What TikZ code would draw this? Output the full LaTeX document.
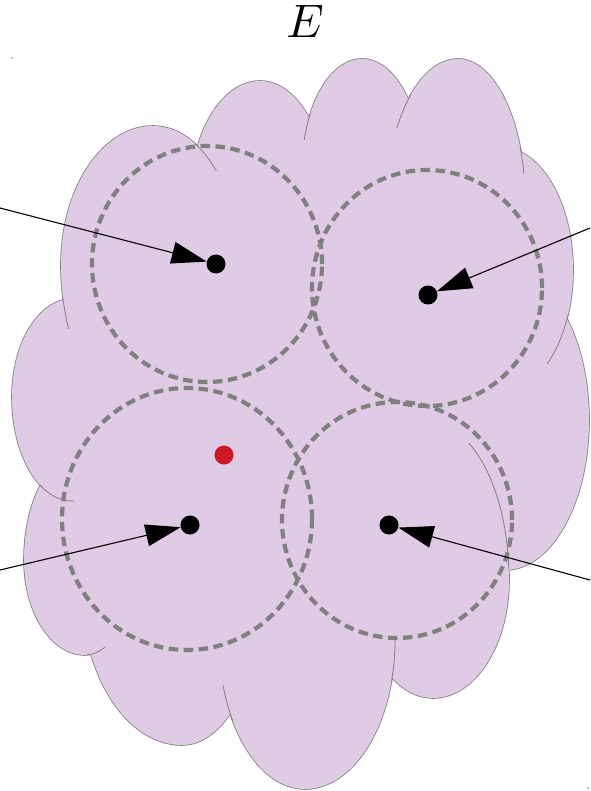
\documentclass[tikz,border=0pt]{standalone}
\usepackage{graphicx}
\usetikzlibrary{arrows.meta}
\definecolor{cloudfill}{RGB}{223,203,227}
\definecolor{cloudedge}{RGB}{128,128,128}
\definecolor{dashgray}{RGB}{128,128,128}
\definecolor{reddot}{RGB}{205,25,35}
\tikzset{
  lobe/.style n args={6}{insert path={({#1+#4},#2)
     arc[start angle=0,end angle=90,x radius=#4pt,y radius=#5pt]
     arc[start angle=90,end angle=180,x radius=#3pt,y radius=#5pt]
     arc[start angle=180,end angle=270,x radius=#3pt,y radius=#6pt]
     arc[start angle=270,end angle=360,x radius=#4pt,y radius=#6pt] -- cycle}},
  cloudline/.style={draw=cloudedge, line width=0.8pt},
  cloudrim/.style={draw=cloudedge, line width=1.6pt},
  rangecirc/.style={draw=dashgray, line width=4.2pt, dash pattern=on 9.5pt off 5.5pt},
  sensor/.style={circle, fill=black, inner sep=0pt, minimum size=19pt},
  target/.style={circle, fill=reddot, inner sep=0pt, minimum size=19pt},
  arr/.style={draw=black, line width=1.1pt, -{Triangle[length=35pt,width=22pt]}},
  speck/.style={circle, fill=cloudedge, inner sep=0pt, minimum size=1.6pt}
}
\def\lobelist{153/265/92/86/139/160, 260/200/70/68/119/100, 362/170/60/60/111/100,
  458/200/71/67/141/100, 500/270/60/73/123/123, 505/420/80/84/150/150,
  433/580/73/76/155/118, 305/640/86/90/120/149, 182/590/100/80/100/155,
  85/560/61/50/110/95, 72/397/60/60/98/104}
\begin{document}
\begin{tikzpicture}[x=1pt,y=-1pt]
\useasboundingbox (0,0) rectangle (590,791);
% title
\node[inner sep=0pt] (title) at (305,21) {\scalebox{4.7}{$E$}};
% tiny specks
\node[speck] (sp1) at (12,58) {};
\node[speck] (sp2) at (588,788) {};
% cloud: rims first, then fills on top so only the outer rim stays
\foreach \a/\b/\c/\d/\e/\f in \lobelist {
  \path[cloudrim, lobe={\a}{\b}{\c}{\d}{\e}{\f}];
}
\foreach \a/\b/\c/\d/\e/\f in \lobelist {
  \path[fill=cloudfill, lobe={\a}{\b}{\c}{\d}{\e}{\f}];
}
\fill[cloudfill] (100,200) -- (200,160) -- (300,140) -- (400,130) -- (500,180)
  -- (550,300) -- (560,450) -- (500,560) -- (420,650) -- (300,700) -- (200,700)
  -- (100,630) -- (50,500) -- (40,400) -- (80,320) -- cycle;
% interior continuations of the lobe outlines
\begin{scope}\clip (195,140) rectangle (217,171);
  \path[cloudline, lobe={153}{265}{92}{86}{139}{160}];\end{scope}
\begin{scope}\clip (57,298) rectangle (72,328);
  \path[cloudline, lobe={153}{265}{92}{86}{139}{160}];\end{scope}
\begin{scope}\clip (300,115) rectangle (312,140);
  \path[cloudline, lobe={362}{170}{60}{60}{111}{100}];\end{scope}
\begin{scope}\clip (393,95) rectangle (411,128);
  \path[cloudline, lobe={458}{200}{71}{67}{141}{100}];\end{scope}
\begin{scope}\clip (515,148) rectangle (528,174);
  \path[cloudline, lobe={458}{200}{71}{67}{141}{100}];\end{scope}
\begin{scope}\clip (544,315) rectangle (572,363);
  \path[cloudline, lobe={500}{270}{60}{73}{123}{123}];\end{scope}
\begin{scope}\clip (463,443) rectangle (515,568);
  \path[cloudline, lobe={433}{580}{73}{76}{155}{118}];\end{scope}
\begin{scope}\clip (388,640) rectangle (400,680);
  \path[cloudline, lobe={305}{640}{86}{90}{120}{149}];\end{scope}
\begin{scope}\clip (217,685) rectangle (233,720);
  \path[cloudline, lobe={305}{640}{86}{90}{120}{149}];\end{scope}
\begin{scope}\clip (87,644) rectangle (105,657);
  \path[cloudline, lobe={85}{560}{61}{50}{110}{95}];\end{scope}
\begin{scope}\clip (37,485) rectangle (74,504);
  \path[cloudline, lobe={72}{397}{60}{60}{98}{104}];\end{scope}
% dashed ranges
\draw[rangecirc] (207,264) ellipse [x radius=115pt, y radius=118pt];
\draw[rangecirc] (427,288) ellipse [x radius=115pt, y radius=118pt];
\draw[rangecirc] (187,519) ellipse [x radius=125pt, y radius=131pt];
\draw[rangecirc] (397,520) ellipse [x radius=115pt, y radius=118pt];
% target
\node[target] (t) at (224,455) {};
% sensors
\node[sensor] (d1) at (216,264) {};
\node[sensor] (d2) at (428,295) {};
\node[sensor] (d3) at (190,525) {};
\node[sensor] (d4) at (389,525) {};
% arrow starts
\coordinate (s1) at (0,208);
\coordinate (s2) at (590,228);
\coordinate (s3) at (0,570);
\coordinate (s4) at (590,580);
\draw[arr] (s1) -- (d1);
\draw[arr] (s2) -- (d2);
\draw[arr] (s3) -- (d3);
\draw[arr] (s4) -- (d4);
\end{tikzpicture}
\end{document}
